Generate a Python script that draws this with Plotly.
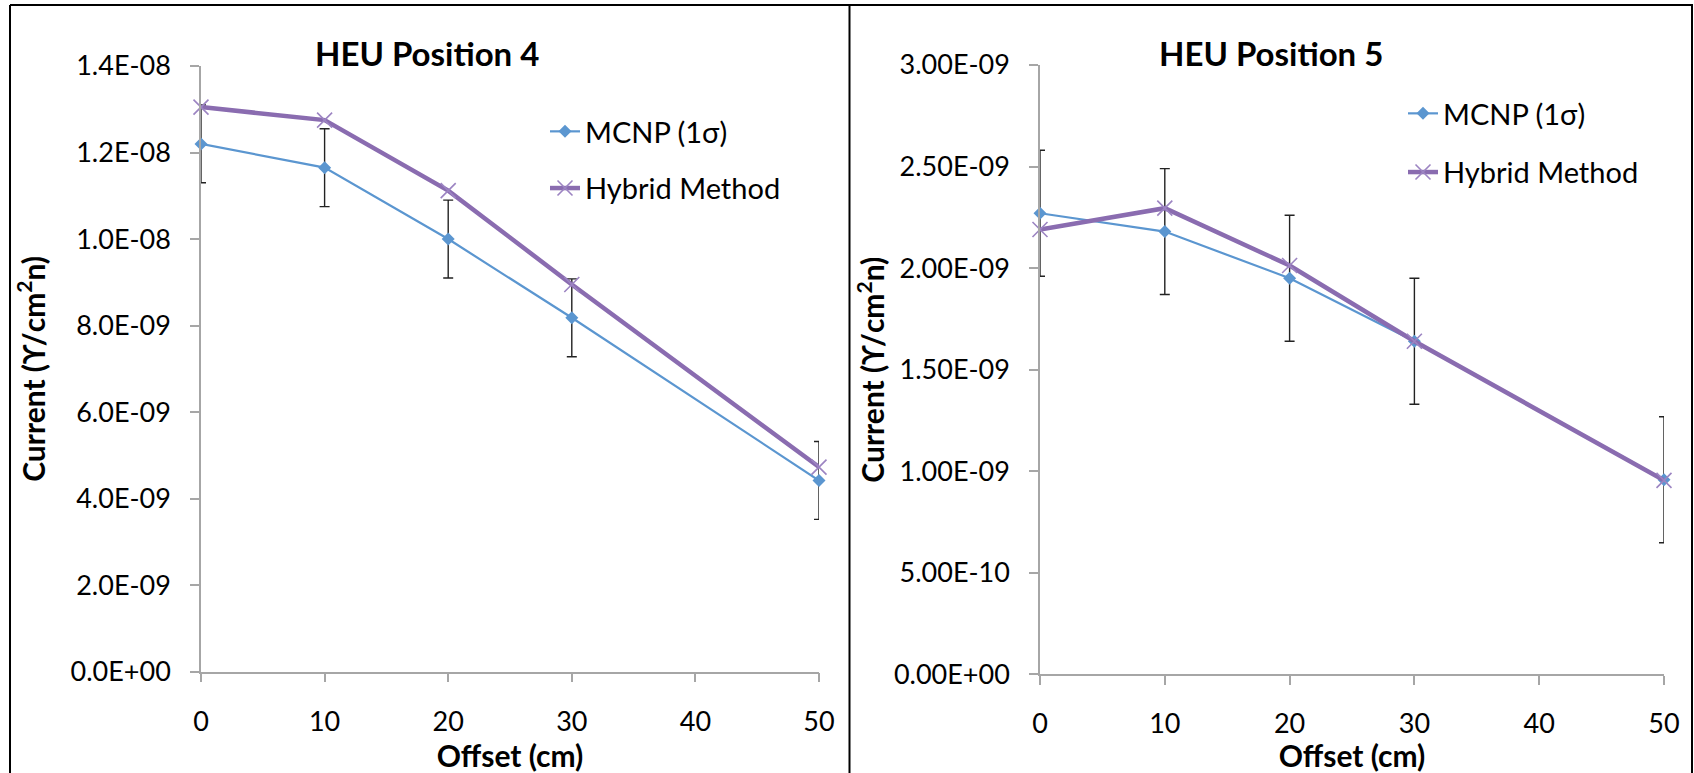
import plotly.graph_objects as go

# ---------------- data ----------------
offset = [0, 10, 20, 30, 50]

pos4_mcnp = [1.22e-8, 1.165e-8, 1.00e-8, 8.18e-9, 4.42e-9]
pos4_mcnp_err = [9.0e-10, 9.0e-10, 9.0e-10, 9.0e-10, 9.0e-10]
pos4_hybrid = [1.305e-8, 1.275e-8, 1.112e-8, 8.95e-9, 4.73e-9]

pos5_mcnp = [2.27e-9, 2.18e-9, 1.95e-9, 1.64e-9, 9.58e-10]
pos5_mcnp_err = [3.1e-10, 3.1e-10, 3.1e-10, 3.1e-10, 3.1e-10]
pos5_hybrid = [2.19e-9, 2.295e-9, 2.013e-9, 1.64e-9, 9.55e-10]

x_ticks = [0, 10, 20, 30, 40, 50]
y4_ticks = [0, 2e-9, 4e-9, 6e-9, 8e-9, 1e-8, 1.2e-8, 1.4e-8]
y4_labels = ["0.0E+00", "2.0E-09", "4.0E-09", "6.0E-09", "8.0E-09", "1.0E-08", "1.2E-08", "1.4E-08"]
y5_ticks = [0, 5e-10, 1e-9, 1.5e-9, 2e-9, 2.5e-9, 3e-9]
y5_labels = ["0.00E+00", "5.00E-10", "1.00E-09", "1.50E-09", "2.00E-09", "2.50E-09", "3.00E-09"]

titles = ["HEU Position 4", "HEU Position 5"]
names = ["MCNP (1σ)", "Hybrid Method"]

# ---------------- style ----------------
W, H = 1694, 773
FONT = "Lato"
BLUE = "#5B96D0"
PURPLE = "#8A6CB0"
PURPLE_MK = "#9C84C2"
AXIS = "#A6A6A6"
TICK_SIZE = 27
AXT_SIZE = 30
LEG_SIZE = 29
TITLE_SIZE = 33

def px_x(p):
    return p / W

def px_y(p):
    return 1 - p / H

fig = go.Figure()

def add_panel(mcnp, err, hyb, xa, ya, legend):
    fig.add_trace(go.Scatter(
        x=offset, y=mcnp, name=names[0], mode="lines+markers",
        xaxis=xa, yaxis=ya, legend=legend, legendgroup=legend + "a",
        line=dict(color=BLUE, width=2.2),
        marker=dict(symbol="diamond", size=10, color=BLUE),
        error_y=dict(type="data", array=err, visible=True, color="#222222",
                     thickness=1.4, width=5),
        cliponaxis=False,
    ))
    fig.add_trace(go.Scatter(
        x=offset, y=hyb, name=names[1], mode="lines+markers",
        xaxis=xa, yaxis=ya, legend=legend, legendgroup=legend + "b",
        line=dict(color=PURPLE, width=4.5),
        marker=dict(symbol="x-thin", size=15, color=PURPLE_MK,
                    line=dict(width=1.6, color=PURPLE_MK)),
        cliponaxis=False,
    ))

add_panel(pos4_mcnp, pos4_mcnp_err, pos4_hybrid, "x", "y", "legend")
add_panel(pos5_mcnp, pos5_mcnp_err, pos5_hybrid, "x2", "y2", "legend2")

xcommon = dict(
    range=[0, 50], tickvals=x_ticks, ticks="outside", ticklen=9, tickwidth=1.5,
    tickcolor=AXIS, showline=True, linecolor=AXIS, linewidth=1.5,
    showgrid=False, zeroline=False, ticklabelstandoff=16, automargin=False,
    tickfont=dict(family=FONT, size=TICK_SIZE, color="#000000"),
    title=dict(text="<b>Offset (cm)</b>", standoff=4,
               font=dict(family=FONT, size=AXT_SIZE, color="#000000")),
)
ycommon = dict(
    ticks="outside", ticklen=9, tickwidth=1.5, tickcolor=AXIS,
    showline=True, linecolor=AXIS, linewidth=1.5,
    showgrid=False, zeroline=False, ticklabelstandoff=14, automargin=False,
    tickfont=dict(family=FONT, size=TICK_SIZE, color="#000000"),
)
YTITLE = "<b>Current (ϒ/cm<sup>2</sup>n)</b>"

fig.update_layout(
    width=W, height=H,
    margin=dict(l=0, r=0, t=0, b=0, autoexpand=False),
    paper_bgcolor="white", plot_bgcolor="white",
    font=dict(family=FONT, color="#000000"),
    xaxis=dict(domain=[px_x(201), px_x(819)], anchor="y", **xcommon),
    yaxis=dict(domain=[px_y(671.7), px_y(66)], anchor="x", range=[0, 1.4e-8],
               tickvals=y4_ticks, ticktext=y4_labels,
               title=dict(text=YTITLE, standoff=16,
                          font=dict(family=FONT, size=AXT_SIZE, color="#000000")),
               **ycommon),
    xaxis2=dict(domain=[px_x(1040), px_x(1664)], anchor="y2", **xcommon),
    yaxis2=dict(domain=[px_y(674.3), px_y(65)], anchor="x2", range=[0, 3e-9],
                tickvals=y5_ticks, ticktext=y5_labels,
                title=dict(text=YTITLE, standoff=0,
                           font=dict(family=FONT, size=AXT_SIZE, color="#000000")),
                **ycommon),
    legend=dict(x=px_x(545), y=px_y(106), xanchor="left", yanchor="top",
                bgcolor="rgba(0,0,0,0)", tracegroupgap=16,
                font=dict(family=FONT, size=LEG_SIZE, color="#000000")),
    legend2=dict(x=px_x(1403), y=px_y(88), xanchor="left", yanchor="top",
                 bgcolor="rgba(0,0,0,0)", tracegroupgap=18,
                 font=dict(family=FONT, size=LEG_SIZE, color="#000000")),
    annotations=[
        dict(text="<b>" + titles[0] + "</b>", x=px_x(427), y=px_y(53),
             xref="paper", yref="paper", showarrow=False,
             xanchor="center", yanchor="middle",
             font=dict(family=FONT, size=TITLE_SIZE, color="#000000")),
        dict(text="<b>" + titles[1] + "</b>", x=px_x(1271), y=px_y(53),
             xref="paper", yref="paper", showarrow=False,
             xanchor="center", yanchor="middle",
             font=dict(family=FONT, size=TITLE_SIZE, color="#000000")),
    ],
    shapes=[
        dict(type="line", xref="paper", yref="paper", x0=px_x(10), x1=px_x(1693),
             y0=px_y(5), y1=px_y(5), line=dict(color="#000000", width=2)),
        dict(type="line", xref="paper", yref="paper", x0=px_x(10), x1=px_x(10),
             y0=px_y(5), y1=px_y(773), line=dict(color="#000000", width=2)),
        dict(type="line", xref="paper", yref="paper", x0=px_x(849.5), x1=px_x(849.5),
             y0=px_y(5), y1=px_y(773), line=dict(color="#000000", width=2)),
        dict(type="line", xref="paper", yref="paper", x0=px_x(1692), x1=px_x(1692),
             y0=px_y(5), y1=px_y(773), line=dict(color="#000000", width=2)),
    ],
)

fig.write_html(
    "out.html",
    config={"displayModeBar": False},
    post_script="document.body.style.margin='0';document.body.style.overflow='hidden';",
)
